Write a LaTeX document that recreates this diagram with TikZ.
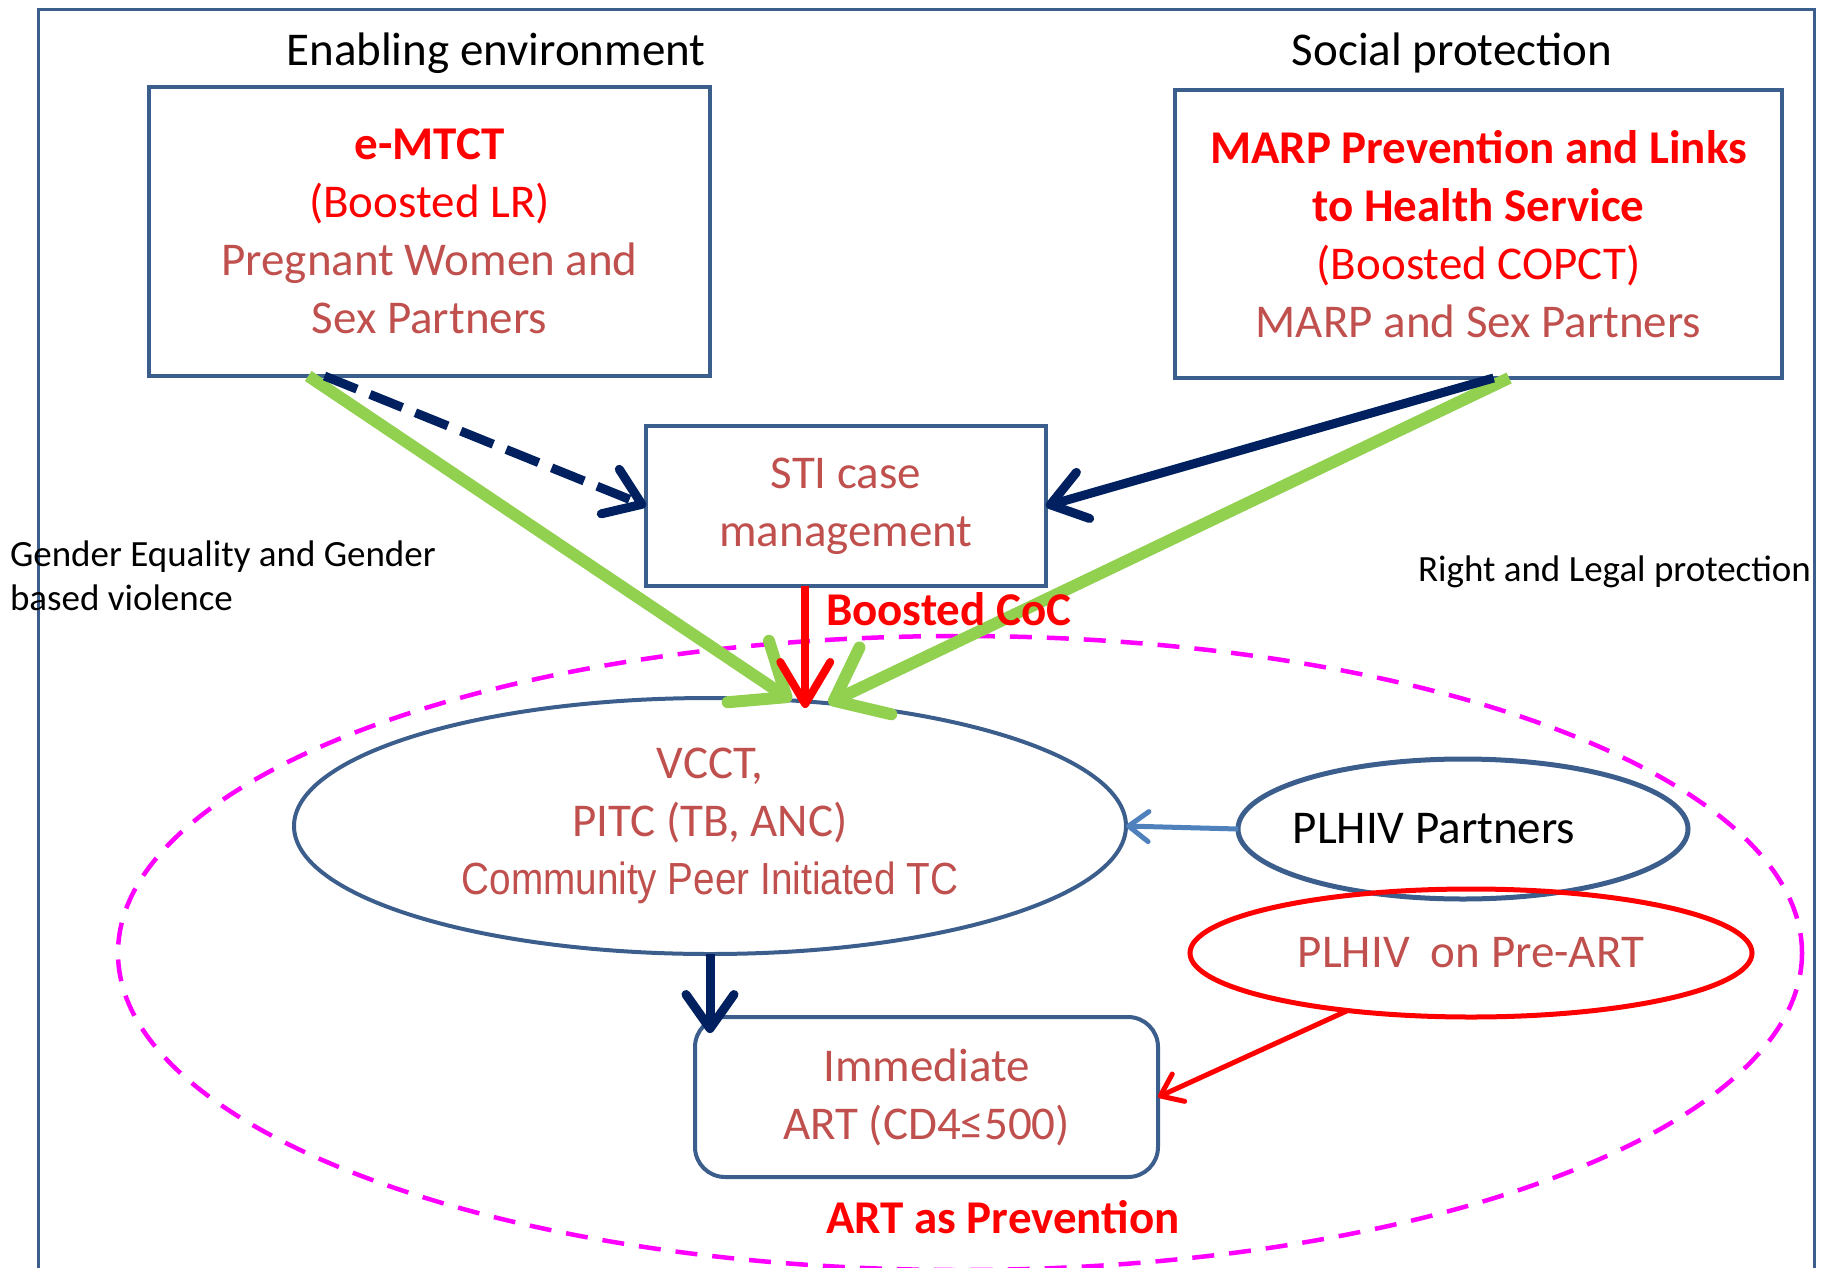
\documentclass[tikz,border=0pt]{standalone}
\usepackage{fontspec}
\setmainfont{Carlito}
\newfontfamily\narrowfont[FakeStretch=0.86]{Liberation Sans}
\usetikzlibrary{arrows.meta,shapes.geometric}
\definecolor{frameblue}{HTML}{3B5E8C}
\definecolor{boxtext}{HTML}{C0504D}
\definecolor{navy}{HTML}{002060}
\definecolor{leafgreen}{HTML}{92D050}
\definecolor{skyblue}{HTML}{4F81BD}
\definecolor{pinkdash}{HTML}{FF00FF}
\tikzset{every node/.style={font=\fontsize{47}{58}\selectfont, inner sep=0pt, outer sep=0pt}}
\tikzset{bluebox/.style={draw=frameblue, line width=4pt, align=center, text=boxtext}}
\tikzset{oval/.style={ellipse, draw=frameblue, line width=4pt, align=center, text=boxtext}}
\tikzset{sidenote/.style={align=left, font=\fontsize{37}{44}\selectfont}}
\tikzset{greenarrow/.style={draw=leafgreen, line width=12pt, -{Straight Barb[length=46pt,width=74pt,round]}}}
\tikzset{navyarrow/.style={draw=navy, line width=9pt, -{Straight Barb[length=34pt,width=48pt,round]}}}
\tikzset{redarrow/.style={draw=red, line width=8pt, -{Straight Barb[length=42pt,width=50pt,round]}}}
\tikzset{thinarrow/.style={line width=5pt, -{Straight Barb[length=20pt,width=30pt,round]}}}

\begin{document}
\begin{tikzpicture}[x=1pt, y=-1pt]
    \useasboundingbox (0,0) rectangle (1829,1267);
    \clip (0,0) rectangle (1829,1267);
    \draw[frameblue, line width=3pt] (38,9) rectangle (1814,1300);
    \draw[pinkdash, line width=4.5pt, dash pattern=on 22pt off 15pt] (960,953) ellipse [x radius=842, y radius=317];

    \node[anchor=base] (enabling) at (496,65) {Enabling environment};
    \node[anchor=base] (social) at (1452,65) {Social protection};
    \node[bluebox, minimum width=561, minimum height=289] (emtct) at (429.5,231.5)
        {\textcolor{red}{\bfseries e-MTCT}\\ \textcolor{red}{(Boosted LR)}\\ Pregnant Women and\\ Sex Partners};
    \node[bluebox, minimum width=607, minimum height=288] (marp) at (1478.5,234)
        {\textcolor{red}{\bfseries MARP Prevention and Links}\\ \textcolor{red}{\bfseries to Health Service}\\ \textcolor{red}{(Boosted COPCT)}\\ MARP and Sex Partners};
    \node[bluebox, line width=3.5pt, minimum width=400, minimum height=160] (sti) at (846,506) {STI case\\ management};
    \node[sidenote, anchor=west] (gender) at (10,576) {Gender Equality and Gender\\ based violence};
    \node[sidenote, anchor=west] (legal) at (1418,572) {Right and Legal protection};
    \node[oval, minimum width=832, minimum height=256] (vcct) at (710,826)
        {VCCT,\\ PITC (TB, ANC)\\ {\narrowfont\fontsize{45}{58}\selectfont Community Peer Initiated TC}};
    \node[oval, line width=5pt, text=black, inner xsep=-30pt, minimum width=450, minimum height=140] (partners) at (1463,829) {PLHIV Partners\hspace{58pt}};
    \node[oval, draw=red, line width=5pt, minimum width=562, minimum height=128] (preart) at (1471,953) {PLHIV\ \ on Pre-ART};
    \node[bluebox, rounded corners=30pt, minimum width=463, minimum height=160] (imm) at (926.5,1097) {Immediate\\ ART (CD4≤500)};
    \node[anchor=west, text=red, font=\fontsize{47}{58}\selectfont\bfseries] (aap) at (826,1217) {ART as Prevention};

    \draw[greenarrow] (emtct.230) -- (vcct.57);
    \draw[greenarrow] (marp.-78) -- (vcct.46);
    \draw[navyarrow, dash pattern=on 35pt off 14pt] (emtct.234) -- (sti.west);
    \draw[navyarrow] (marp.-84) -- (sti.east);
    \draw[redarrow, shorten >=-10pt] (sti.243) -- (sti.243 |- vcct.north);
    \draw[thinarrow, skyblue] (partners.west) -- (vcct.east);
    \draw[navyarrow, shorten >=-16pt] (vcct.south) -- (vcct.south |- imm.north);
    \draw[thinarrow, red] (preart.205) -- (imm.east);
    \node[anchor=west, text=red, font=\fontsize{47}{58}\selectfont\bfseries] (coc) at (826,609) {Boosted CoC};
\end{tikzpicture}
\end{document}
